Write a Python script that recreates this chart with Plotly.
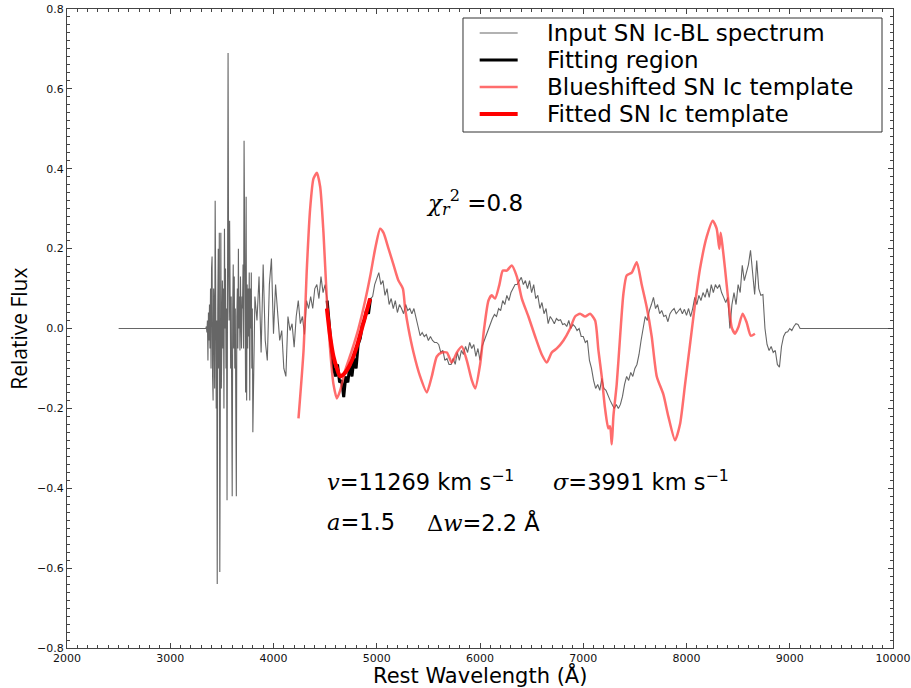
import numpy as np
import plotly.graph_objects as go

# ---------------- data ----------------
# Input SN Ic-BL spectrum: noisy blue part (5 A grid from 3340 A)
noisy_start, noisy_step = 3340, 5
noisy_flux = [
    0.0, 0.0, 0.005, -0.01, 0.02, -0.08, 0.04, -0.03, 0.06, -0.05,
    0.10, -0.10, 0.15, 0.18, -0.12, -0.18, 0.10, 0.05, -0.15, 0.32,
    0.10, -0.20, 0.02, -0.64, 0.05, 0.20, -0.10, 0.24, -0.61, 0.10,
    0.24, -0.15, 0.05, 0.12, -0.05, 0.10, -0.20, 0.25, 0.00, 0.15,
    -0.10, 0.05, -0.43, 0.10, 0.69, 0.15, 0.02, 0.27, 0.10, -0.10,
    0.08, -0.20, -0.42, 0.05, 0.16, -0.05, 0.13, -0.10, 0.05, -0.20,
    -0.42, 0.03, 0.10, -0.05, 0.20, 0.00, 0.08, -0.055, 0.13, 0.02,
    -0.05, 0.08, 0.05, 0.16, -0.05, 0.47, 0.10, 0.20, -0.16, 0.33,
    -0.18, 0.11, -0.05, 0.10, -0.02, 0.14, -0.18, 0.10, 0.00, 0.14,
    -0.10, 0.05,
]
# Input spectrum: rest (20 A grid from 3800 A)
main_start, main_step = 3800, 20
main_flux = [
    -0.26, 0.08, 0.02, 0.13, -0.06, 0.16, -0.03, -0.08, 0.11, 0.175,
    -0.013, 0.11, 0.045, -0.03, -0.005, -0.10, -0.12, 0.03, -0.005, 0.012,
    -0.047, 0.03, 0.07, 0.012, 0.03, -0.015, 0.07, 0.05, 0.08, 0.05,
    0.10, 0.11, 0.075, 0.13, 0.09, 0.11, 0.07, 0.0, -0.05, -0.097,
    -0.12, -0.09, -0.135, -0.13, -0.172, -0.12, -0.135, -0.09, -0.12, -0.075,
    -0.10, -0.04, -0.025, 0.008, 0.02, 0.045, 0.037, 0.075, 0.08, 0.11,
    0.128, 0.14, 0.11, 0.12, 0.083, 0.10, 0.06, 0.075, 0.05, 0.07,
    0.04, 0.06, 0.05, 0.037, 0.06, 0.045, 0.05, 0.037, 0.05, 0.03,
    0.005, -0.018, -0.01, -0.02, -0.015, -0.03, -0.02, -0.03, -0.035, -0.035,
    -0.04, -0.06, -0.055, -0.08, -0.075, -0.09, -0.09, -0.075, -0.09, -0.06,
    -0.08, -0.055, -0.065, -0.045, -0.06, -0.035, -0.05, -0.04, -0.07, -0.05,
    -0.08, -0.045, -0.03, -0.015, 0.0, 0.015, 0.025, 0.035, 0.03, 0.05,
    0.045, 0.07, 0.06, 0.083, 0.07, 0.09, 0.10, 0.11, 0.11, 0.12,
    0.128, 0.11, 0.12, 0.10, 0.12, 0.09, 0.11, 0.075, 0.083, 0.05,
    0.065, 0.037, 0.05, 0.012, 0.03, 0.022, 0.012, 0.025, 0.02, 0.022,
    0.01, 0.012, 0.005, 0.02, 0.0, 0.01, 0.005, -0.005, 0.0, -0.02,
    -0.02, -0.035, -0.03, -0.08, -0.10, -0.13, -0.15, -0.14, -0.155, -0.125,
    -0.15, -0.155, -0.17, -0.18, -0.19, -0.20, -0.19, -0.20, -0.19, -0.17,
    -0.14, -0.12, -0.13, -0.11, -0.12, -0.10, -0.09, -0.065, -0.03, 0.005,
    0.03, 0.02, 0.045, 0.06, 0.078, 0.05, 0.06, 0.037, 0.045, 0.03,
    0.033, 0.017, 0.037, 0.045, 0.05, 0.037, 0.045, 0.05, 0.037, 0.048,
    0.033, 0.05, 0.03, 0.05, 0.078, 0.06, 0.083, 0.07, 0.09, 0.078,
    0.10, 0.078, 0.11, 0.09, 0.11, 0.10, 0.11, 0.09, 0.078, 0.065,
    0.078, 0.0, 0.06, 0.09, 0.06, 0.11, 0.09, 0.158, 0.12, 0.14,
    0.16, 0.196, 0.14, 0.085, 0.17, 0.10, 0.083, 0.085, 0.0, -0.04,
    -0.055, -0.045, -0.06, -0.055, -0.09, -0.097, -0.045, -0.02, -0.01, -0.008,
    0.0, -0.005, 0.005, 0.012, 0.01, 0.0, 0.0, 0.0,
]
flat_blue_start = 2500
flat_red_end = 10000

fit_lo, fit_hi = 4520, 4940

# Blueshifted SN Ic template
tmpl_wl = [4242, 4291, 4323, 4355, 4387, 4420, 4452, 4484, 4517, 4549,
           4581, 4614, 4646, 4694, 4759, 4823, 4888, 4936, 4985, 5033,
           5065, 5114, 5162, 5210, 5253, 5275, 5307, 5356, 5420, 5485,
           5533, 5582, 5630, 5679, 5727, 5776, 5824, 5872, 5921, 5953,
           6001, 6040, 6082, 6114, 6146, 6188, 6221, 6260, 6308, 6357,
           6405, 6469, 6534, 6598, 6647, 6695, 6744, 6808, 6873, 6921,
           6969, 7018, 7066, 7115, 7147, 7179, 7211, 7243, 7260, 7276,
           7292, 7324, 7357, 7389, 7421, 7470, 7518, 7566, 7615, 7663,
           7712, 7776, 7824, 7889, 7937, 7986, 8034, 8082, 8131, 8196,
           8254, 8292, 8318, 8331, 8347, 8373, 8405, 8438, 8470, 8502,
           8544, 8583, 8622, 8663]
tmpl_flux = [-0.225, -0.055, 0.15, 0.30, 0.375, 0.39, 0.355, 0.24, 0.07, -0.055,
             -0.14, -0.175, -0.155, -0.105, -0.055, 0.0, 0.07, 0.13, 0.20, 0.25,
             0.24, 0.20, 0.16, 0.12, 0.10, 0.05, 0.0, -0.06, -0.12, -0.16,
             -0.12, -0.07, -0.06, -0.06, -0.085, -0.06, -0.045, -0.08, -0.13, -0.15,
             -0.09, 0.0, 0.07, 0.083, 0.075, 0.11, 0.145, 0.145, 0.158, 0.13,
             0.075, 0.03, -0.02, -0.065, -0.085, -0.06, -0.05, -0.03, 0.0, 0.03,
             0.037, 0.03, 0.037, 0.02, -0.055, -0.12, -0.20, -0.25, -0.245, -0.29,
             -0.22, -0.14, -0.02, 0.087, 0.133, 0.14, 0.166, 0.11, 0.053, -0.02,
             -0.12, -0.165, -0.22, -0.28, -0.24, -0.14, -0.04, 0.06, 0.15, 0.23,
             0.27, 0.25, 0.20, 0.24, 0.21, 0.15, 0.07, 0.003, -0.013, 0.003,
             0.037, 0.015, -0.018, -0.013]

# Fitted SN Ic template
fit_wl = [4517, 4549, 4581, 4614, 4646, 4678, 4710, 4759, 4807, 4856, 4904, 4936]
fit_flux = [0.05, -0.02, -0.07, -0.10, -0.12, -0.115, -0.105, -0.08, -0.045, 0.0, 0.045, 0.075]

legend_names = ["Input SN Ic-BL spectrum", "Fitting region",
                "Blueshifted SN Ic template", "Fitted SN Ic template"]

# ---------------- assemble ----------------
noisy_wl = [noisy_start + noisy_step * i for i in range(len(noisy_flux))]
main_wl = [main_start + main_step * i for i in range(len(main_flux))]
spec_wl = [flat_blue_start] + noisy_wl + main_wl + [flat_red_end]
spec_flux = [0.0] + noisy_flux + main_flux + [0.0]
reg_wl = [w for w in main_wl if fit_lo <= w <= fit_hi]
reg_flux = [f for w, f in zip(main_wl, main_flux) if fit_lo <= w <= fit_hi]

styles = [dict(color="#666666", width=1.1),
          dict(color="black", width=3),
          dict(color="rgba(255,60,60,0.75)", width=2.5, shape="spline", smoothing=0.6),
          dict(color="red", width=4, shape="spline", smoothing=0.8)]
series = [(spec_wl, spec_flux), (reg_wl, reg_flux), (tmpl_wl, tmpl_flux), (fit_wl, fit_flux)]

fig = go.Figure()
for (xs, ys), st, nm in zip(series, styles, legend_names):
    fig.add_trace(go.Scatter(x=xs, y=ys, mode="lines", line=st, name=nm, showlegend=False))

# ---- legend drawn as a framed box in paper coordinates ----
box_x0, box_x1, box_y0, box_y1 = 0.4794, 0.9867, 0.8075, 0.9859
row_y = [0.9624, 0.9202, 0.8779, 0.8357]
sym_x0, sym_x1, txt_x = 0.4996, 0.5456, 0.5787
fig.add_shape(type="rect", xref="paper", yref="paper", x0=box_x0, x1=box_x1, y0=box_y0, y1=box_y1,
              line=dict(color="#333333", width=1), fillcolor="white", layer="above")
for yy, st, nm in zip(row_y, styles, legend_names):
    fig.add_shape(type="line", xref="paper", yref="paper", x0=sym_x0, x1=sym_x1, y0=yy, y1=yy,
                  line=dict(color=st["color"], width=st["width"]), layer="above")
    fig.add_annotation(x=txt_x, y=yy, xref="paper", yref="paper", xanchor="left", yanchor="middle",
                       showarrow=False, text=nm,
                       font=dict(family="DejaVu Sans", size=23, color="black"))

serif = "font-family:'DejaVu Serif'"
txt_font = dict(family="DejaVu Sans", size=22.5, color="black")
fig.add_annotation(x=5460, y=0.316, xref="x", yref="y", xanchor="left", yanchor="middle",
                   showarrow=False, font=dict(family="DejaVu Sans", size=23, color="black"),
                   text=f"<span style=\"{serif}\"><i>χ</i><sub><i>r</i></sub><sup>2</sup></span> =0.8")
fig.add_annotation(x=4500, y=-0.38, xref="x", yref="y", xanchor="left", yanchor="middle",
                   showarrow=False, font=txt_font,
                   text=f"<span style=\"{serif}\"><i>v</i></span>=11269 km s<sup>−1</sup>")
fig.add_annotation(x=6690, y=-0.38, xref="x", yref="y", xanchor="left", yanchor="middle",
                   showarrow=False, font=txt_font,
                   text=f"<span style=\"{serif}\"><i>σ</i></span>=3991 km s<sup>−1</sup>")
fig.add_annotation(x=4500, y=-0.485, xref="x", yref="y", xanchor="left", yanchor="middle",
                   showarrow=False, font=txt_font,
                   text=f"<span style=\"{serif}\"><i>a</i></span>=1.5")
fig.add_annotation(x=5469, y=-0.485, xref="x", yref="y", xanchor="left", yanchor="middle",
                   showarrow=False, font=txt_font,
                   text=f"<span style=\"{serif}\">Δ<i>w</i></span>=2.2 Å")

# axis titles
fig.add_annotation(x=0.5, y=-0.043, xref="paper", yref="paper", xanchor="center", yanchor="middle",
                   showarrow=False, text="Rest Wavelength (Å)",
                   font=dict(family="DejaVu Sans", size=21, color="black"))
fig.add_annotation(x=-0.059, y=0.5, xref="paper", yref="paper", xanchor="center", yanchor="middle",
                   showarrow=False, text="Relative Flux", textangle=-90,
                   font=dict(family="Open Sans", size=21, color="black"))

axis_common = dict(showgrid=False, zeroline=False, showline=True, linecolor="#444444",
                   linewidth=1, mirror="ticks", ticks="inside", ticklen=5, tickcolor="#444444",
                   automargin=False, ticklabeloverflow="allow",
                   tickfont=dict(family="DejaVu Sans", size=11, color="#111111"))
fig.update_xaxes(range=[2000, 10000], dtick=1000, tick0=2000, tickformat="d",
                 minor=dict(ticks="inside", dtick=100, ticklen=3, tickcolor="#444444"),
                 **axis_common)
fig.update_yaxes(range=[-0.8, 0.8], dtick=0.2, tick0=-0.8, tickformat=".1f",
                 minor=dict(ticks="inside", dtick=0.02, ticklen=3, tickcolor="#444444"),
                 **axis_common)

fig.update_layout(
    width=911, height=688,
    margin=dict(l=67, r=18, t=9, b=40),
    plot_bgcolor="white", paper_bgcolor="white",
    showlegend=False,
)

# remove the page's default 8px body margin so the 911x688 figure fills the window
fig.write_html("out.html", config={"displayModeBar": False},
               post_script="document.body.style.margin='0';document.body.style.overflow='hidden';")
